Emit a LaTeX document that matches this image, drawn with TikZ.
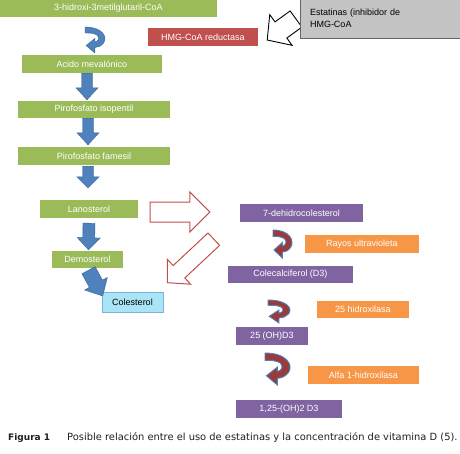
\documentclass[tikz,border=0pt]{standalone}
\usepackage{fontspec}
\setmainfont{Liberation Sans}
\newfontfamily\capfont{DejaVu Sans}
\usetikzlibrary{calc}
\definecolor{grn}{HTML}{9BBB59}
\definecolor{redbox}{HTML}{C0504D}
\definecolor{purp}{HTML}{8064A2}
\definecolor{orng}{HTML}{F79646}
\definecolor{blu}{HTML}{4F81BD}
\definecolor{bludark}{HTML}{3A6496}
\definecolor{cyanbox}{HTML}{A9E4F7}
\definecolor{cyanedge}{HTML}{7FB2D6}
\definecolor{darkred}{HTML}{9B3A3A}
\definecolor{graybox}{HTML}{C4C4C4}
\definecolor{captxt}{HTML}{231F20}
\newcommand\blockarr[6]{%
  \coordinate (hb) at ($(#2)!#5!(#1)$);
  \path[#6] ($(#1)!#3!90:(#2)$) -- ($(hb)!#3!-90:(#1)$) -- ($(hb)!#4!-90:(#1)$) -- (#2)
    -- ($(hb)!#4!90:(#1)$) -- ($(hb)!#3!90:(#1)$) -- ($(#1)!#3!-90:(#2)$) -- cycle;}
\newcommand\curvarr[4]{%
  \begin{scope}[shift={(#1)},xscale=#2,yscale=#3]
  \path[#4] (0,0) .. controls (16,0) and (21,10) .. (17,16) .. controls (15,19) and (12,20.5) .. (9,20.5)
    -- (9,26) -- (1,18.5) -- (9,11.5) -- (9,15) .. controls (12,14.5) and (14,11) .. (11,8)
    .. controls (8,6) and (4,6) .. (0,6) -- cycle;
  \end{scope}}
\begin{document}
\begin{tikzpicture}[x=1pt,y=-1pt,
  font=\fontsize{9}{12}\selectfont,
  box/.style={inner sep=0pt, text=white, minimum height=18pt},
  gbox/.style={box, fill=grn},
  pbox/.style={box, fill=purp},
  obox/.style={box, fill=orng},
  bluearr/.style={fill=blu, draw=bludark, line width=0.4pt},
  redarr/.style={fill=white, draw=redbox, line width=1pt, line join=miter},
  blkarr/.style={fill=white, draw=black, line width=0.9pt, line join=miter},
  bluecurve/.style={fill=blu, draw=bludark, line width=0.4pt},
  redcurve/.style={fill=darkred, draw=blu, line width=0.9pt}]
\useasboundingbox (0,0) rectangle (460,453);
\fill[white] (0,0) rectangle (460,453);

% left column
\node[gbox, minimum width=217pt, minimum height=18pt] (hmg) at (108.5,8) {3-hidroxi-3metilglutaril-CoA};
\node[box, fill=redbox, minimum width=110pt] (reduct) at (203,37) {HMG-CoA reductasa};
\node[gbox, minimum width=140pt] (acido) at (92,64) {Acido mevalónico};
\node[gbox, minimum width=152pt, minimum height=17pt] (piro1) at (94,109.5) {Pirofosfato isopentil};
\node[gbox, minimum width=152pt] (piro2) at (94,156) {Pirofosfato famesil};
\node[gbox, minimum width=98pt] (lano) at (89,209) {Lanosterol};
\node[gbox, minimum width=71pt, minimum height=17pt] (demo) at (87.5,259.5) {Demosterol};
\node[box, fill=cyanbox, draw=cyanedge, line width=0.6pt, text=black, minimum width=61pt, minimum height=20pt] (coles) at (132.5,302) {Colesterol};

% right column
\node[pbox, minimum width=123pt] (dehidro) at (301.5,213) {7-dehidrocolesterol};
\node[obox, minimum width=114pt] (rayos) at (362,244) {Rayos ultravioleta};
\node[pbox, minimum width=125pt, minimum height=17pt] (colecal) at (290.5,274.5) {Colecalciferol (D3)};
\node[obox, minimum width=92pt, minimum height=17pt] (h25) at (363,309.5) {25 hidroxilasa};
\node[pbox, minimum width=72pt] (oh25) at (272,336) {25 (OH)D3};
\node[obox, minimum width=111pt] (alfa) at (363.5,375) {Alfa 1-hidroxilasa};
\node[pbox, minimum width=106pt] (d3) at (289,409) {1,25-(OH)2 D3};

% statins arrow, then box on top
\coordinate (estA) at (296,19);
\coordinate (estB) at ($(reduct.east)+(9,3)$);
\blockarr{estA}{estB}{10pt}{19pt}{17pt}{blkarr}
\node[fill=graybox, draw=gray!80!black, line width=0.6pt, text=black, minimum width=162pt, minimum height=39pt,
      text width=142pt, inner xsep=10pt, align=left] (estat) at (381,18.5) {Estatinas (inhibidor de\\HMG-CoA};

% blue straight arrows
\coordinate (a1s) at ($(acido.south)+(-5,0)$);  \coordinate (a1t) at ($(piro1.north)+(-7,-1)$);
\blockarr{a1s}{a1t}{5.5pt}{11pt}{12pt}{bluearr}
\coordinate (a2s) at ($(piro1.south)+(-6,0)$);  \coordinate (a2t) at ($(piro2.north)+(-6,-2)$);
\blockarr{a2s}{a2t}{5.5pt}{11pt}{12pt}{bluearr}
\coordinate (a3s) at ($(piro2.south)+(-6,1)$);  \coordinate (a3t) at ($(lano.north)+(-1,-12)$);
\blockarr{a3s}{a3t}{5.5pt}{11pt}{11pt}{bluearr}
\coordinate (a4s) at ($(lano.south)+(0,5)$);  \coordinate (a4t) at ($(demo.north)+(1,-1)$);
\blockarr{a4s}{a4t}{6pt}{11.5pt}{12pt}{bluearr}
\coordinate (a5s) at ($(demo.south)+(1,2)$);  \coordinate (a5t) at ($(coles.west)+(1,-6)$);
\blockarr{a5s}{a5t}{7.5pt}{13pt}{14pt}{bluearr}

% red outlined arrows
\coordinate (r1s) at ($(lano.east)+(12,3)$);  \coordinate (r1t) at ($(dehidro.west)+(-30,-1)$);
\blockarr{r1s}{r1t}{10pt}{20pt}{20pt}{redarr}
\coordinate (r2s) at ($(dehidro.south west)+(-26,17)$);  \coordinate (r2t) at ($(coles.north east)+(4,-9)$);
\blockarr{r2s}{r2t}{8.5pt}{17pt}{16pt}{redarr}

% curved arrows
\curvarr{85,27}{1.09}{1}{bluecurve}
\curvarr{273,230}{1.04}{1.08}{redcurve}
\curvarr{268,300}{1.2}{0.88}{redcurve}
\curvarr{265,353}{1.37}{1.23}{redcurve}

% caption
\node[anchor=base west, inner sep=0pt, text=captxt, font=\capfont\fontsize{9}{11}\selectfont\bfseries] (fig) at (8,440) {Figura 1};
\node[anchor=base west, inner sep=0pt, text=captxt, font=\capfont\fontsize{9.9}{11}\selectfont] (cap) at (67,440) {Posible relación entre el uso de estatinas y la concentración de vitamina D (5).};
\end{tikzpicture}
\end{document}
